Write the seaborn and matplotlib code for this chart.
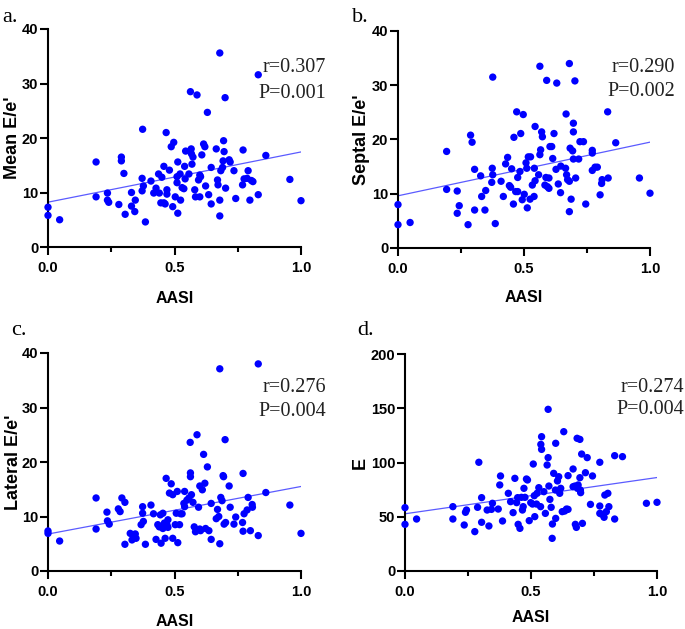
import matplotlib
matplotlib.use('Agg')
import matplotlib.pyplot as plt
import seaborn as sns
import pandas as pd
from matplotlib import font_manager
from matplotlib.ticker import MultipleLocator

# ---------------- data ----------------
mean_aasi = [0, 0, 0.046, 0.19, 0.19, 0.235, 0.235, 0.24, 0.28, 0.29,
             0.29, 0.30, 0.305, 0.33, 0.33, 0.345, 0.343, 0.374, 0.372, 0.372,
             0.377, 0.385, 0.407, 0.418, 0.427, 0.437, 0.44, 0.45, 0.446, 0.458,
             0.458, 0.467, 0.47, 0.47, 0.463, 0.48, 0.487, 0.497, 0.493, 0.503,
             0.51, 0.51, 0.513, 0.513, 0.522, 0.524, 0.53, 0.537, 0.54, 0.544,
             0.542, 0.557, 0.563, 0.566, 0.567, 0.569, 0.573, 0.58, 0.583, 0.589,
             0.595, 0.6, 0.6, 0.603, 0.608, 0.615, 0.62, 0.623, 0.63, 0.635,
             0.645, 0.645, 0.665, 0.67, 0.672, 0.679, 0.679, 0.679, 0.683, 0.69,
             0.692, 0.694, 0.696, 0.70, 0.702, 0.716, 0.72, 0.735, 0.742, 0.769,
             0.771, 0.775, 0.787, 0.791, 0.798, 0.804, 0.81, 0.831, 0.831, 0.861,
             0.956, 1.0]
mean_ee = [7.3, 5.8, 5.0, 15.6, 9.2, 9.9, 8.6, 8.2, 7.8, 15.8,
           16.5, 13.5, 6.0, 10.0, 7.5, 8.6, 6.5, 21.6, 12.6, 10.3,
           11.2, 4.6, 12.1, 9.9, 10.8, 13.4, 9.9, 12.8, 8.1, 8.1,
           14.8, 21.0, 10.5, 9.7, 7.9, 14.1, 18.4, 19.2, 7.4, 9.2,
           12.9, 11.8, 15.6, 6.2, 13.4, 8.6, 10.9, 10.7, 14.8, 17.6,
           12.5, 13.4, 28.5, 18.0, 17.1, 15.2, 16.5, 10.5, 9.2, 27.9,
           12.3, 13.2, 9.2, 12.9, 16.9, 18.9, 18.4, 11.2, 24.7, 9.6,
           14.6, 7.9, 18.0, 12.3, 11.4, 35.6, 8.6, 5.7, 14.0, 14.6,
           15.8, 19.5, 17.5, 27.4, 10.8, 16.0, 15.6, 14.0, 8.9, 11.4,
           17.8, 12.5, 12.6, 14.0, 8.6, 12.2, 12.0, 31.6, 9.6, 16.8,
           12.4, 8.5]

septal_aasi = [0, 0, 0.048, 0.193, 0.193, 0.235, 0.235, 0.243, 0.278, 0.288,
               0.294, 0.304, 0.304, 0.328, 0.332, 0.345, 0.348, 0.376, 0.374, 0.376,
               0.372, 0.386, 0.409, 0.418, 0.427, 0.435, 0.442, 0.447, 0.451, 0.458,
               0.46, 0.467, 0.471, 0.475, 0.475, 0.484, 0.487, 0.493, 0.497, 0.501,
               0.508, 0.511, 0.513, 0.517, 0.524, 0.526, 0.533, 0.54, 0.541, 0.544,
               0.544, 0.558, 0.563, 0.563, 0.566, 0.57, 0.573, 0.583, 0.587, 0.59,
               0.593, 0.599, 0.599, 0.603, 0.61, 0.614, 0.619, 0.627, 0.63, 0.636,
               0.645, 0.646, 0.665, 0.667, 0.669, 0.673, 0.68, 0.68, 0.68, 0.683,
               0.687, 0.693, 0.696, 0.696, 0.696, 0.702, 0.705, 0.717, 0.722, 0.736,
               0.745, 0.771, 0.771, 0.771, 0.782, 0.791, 0.802, 0.808, 0.81, 0.832,
               0.834, 0.864, 0.958, 1.0]
septal_ee = [8.0, 4.3, 4.7, 17.8, 10.8, 10.5, 6.4, 7.8, 4.3, 20.8,
             19.5, 14.5, 7.0, 13.3, 9.5, 7.0, 10.6, 31.5, 14.7, 13.5,
             12.1, 4.5, 12.3, 9.5, 15.5, 16.7, 11.5, 11.2, 14.6, 8.1,
             20.4, 10.4, 25.1, 10.4, 13.0, 14.1, 21.1, 8.9, 24.6, 9.9,
             15.7, 14.7, 7.4, 16.8, 9.0, 16.8, 11.6, 9.5, 14.7, 22.4,
             12.4, 13.5, 33.5, 17.2, 18.1, 21.4, 20.5, 11.6, 13.0, 30.9,
             11.3, 12.9, 11.0, 18.7, 18.7, 16.5, 21.1, 14.5, 30.4, 11.8,
             10.2, 15.1, 14.7, 24.7, 13.5, 12.6, 34.0, 12.3, 6.7, 18.4,
             9.0, 17.9, 23.0, 21.4, 16.4, 30.8, 12.9, 16.4, 19.6, 19.6,
             8.1, 17.5, 18.0, 14.3, 14.9, 14.9, 9.8, 11.9, 12.6, 25.1,
             12.9, 19.4, 12.9, 10.1]

lateral_aasi = [0, 0, 0.046, 0.19, 0.19, 0.233, 0.235, 0.242, 0.278, 0.285,
                0.292, 0.304, 0.304, 0.325, 0.332, 0.339, 0.345, 0.348, 0.368, 0.374,
                0.374, 0.377, 0.385, 0.407, 0.417, 0.427, 0.434, 0.44, 0.444, 0.447,
                0.454, 0.454, 0.46, 0.463, 0.467, 0.47, 0.474, 0.474, 0.48, 0.487,
                0.493, 0.493, 0.503, 0.507, 0.511, 0.513, 0.52, 0.524, 0.53, 0.537,
                0.54, 0.54, 0.549, 0.557, 0.562, 0.563, 0.563, 0.567, 0.573, 0.578,
                0.583, 0.589, 0.595, 0.6, 0.6, 0.603, 0.61, 0.615, 0.62, 0.623,
                0.63, 0.636, 0.645, 0.645, 0.665, 0.67, 0.675, 0.679, 0.679, 0.683,
                0.688, 0.692, 0.694, 0.696, 0.70, 0.702, 0.716, 0.72, 0.735, 0.742,
                0.769, 0.771, 0.775, 0.771, 0.787, 0.791, 0.80, 0.807, 0.808, 0.831,
                0.831, 0.861, 0.956, 1.0]
lateral_ee = [7.35, 6.9, 5.5, 13.4, 7.7, 10.8, 9.2, 8.6, 11.4, 10.9,
              13.4, 12.6, 4.9, 6.9, 5.7, 6.3, 6.8, 6.0, 8.5, 11.8,
              10.6, 9.1, 4.9, 12.1, 10.5, 5.8, 8.5, 8.1, 10.3, 5.1,
              10.6, 7.8, 8.8, 6.0, 17.0, 8.5, 9.4, 8.0, 14.3, 16.0,
              14.0, 6.0, 8.5, 10.6, 14.6, 5.2, 8.5, 10.5, 10.5, 12.4,
              14.6, 11.8, 13.0, 13.4, 23.6, 18.0, 17.3, 14.0, 12.6, 8.1,
              7.2, 25.0, 11.7, 15.6, 7.7, 7.4, 14.9, 21.4, 16.1, 7.8,
              19.1, 7.4, 12.4, 5.8, 9.6, 11.3, 10.0, 37.1, 5.0, 13.5,
              12.9, 17.5, 17.3, 8.6, 24.1, 8.9, 15.6, 11.7, 8.6, 9.9,
              8.9, 17.9, 10.5, 7.3, 11.2, 13.5, 7.4, 12.2, 11.7, 38.0,
              6.5, 14.4, 12.1, 6.9]

e_aasi = [0, 0, 0.046, 0.19, 0.19, 0.235, 0.24, 0.244, 0.277, 0.288,
          0.293, 0.304, 0.304, 0.326, 0.333, 0.343, 0.347, 0.37, 0.376, 0.379,
          0.387, 0.41, 0.419, 0.429, 0.436, 0.443, 0.447, 0.449, 0.456, 0.462,
          0.466, 0.469, 0.472, 0.476, 0.482, 0.486, 0.493, 0.499, 0.506, 0.509,
          0.513, 0.515, 0.522, 0.524, 0.531, 0.538, 0.542, 0.539, 0.542, 0.551,
          0.557, 0.564, 0.568, 0.568, 0.571, 0.575, 0.58, 0.585, 0.584, 0.59,
          0.597, 0.598, 0.598, 0.605, 0.61, 0.614, 0.618, 0.624, 0.63, 0.634,
          0.641, 0.647, 0.647, 0.667, 0.667, 0.674, 0.676, 0.68, 0.683, 0.684,
          0.687, 0.694, 0.694, 0.696, 0.697, 0.701, 0.704, 0.716, 0.723, 0.736,
          0.744, 0.773, 0.773, 0.773, 0.779, 0.793, 0.79, 0.799, 0.805, 0.809,
          0.832, 0.832, 0.863, 0.958, 1.0]
e_vals = [58.4, 43.0, 47.9, 59.3, 47.9, 42.4, 54.1, 56.2, 36.3, 58.7,
          100.2, 67.6, 44.9, 56.2, 41.5, 56.8, 62.4, 57.1, 79.3, 87.6,
          46.1, 71.6, 63.9, 53.8, 85.4, 63.0, 67.6, 43.0, 39.3, 67.9,
          56.2, 59.3, 76.2, 67.9, 84.8, 83.9, 46.4, 63.0, 61.7, 98.6,
          69.4, 50.1, 61.7, 71.6, 76.8, 59.3, 123.8, 116.7, 112.1, 73.1,
          53.1, 97.7, 104.5, 149.0, 78.3, 66.0, 58.7, 43.3, 30.1, 90.0,
          74.6, 48.5, 117.7, 83.0, 86.9, 71.6, 76.2, 54.7, 128.4, 55.3,
          57.1, 56.8, 87.9, 94.0, 77.7, 78.3, 43.0, 40.2, 122.3, 76.2,
          79.3, 121.3, 86.0, 74.6, 72.2, 107.8, 43.9, 90.6, 104.5, 61.4,
          87.6, 100.2, 59.9, 53.1, 52.5, 70.0, 49.5, 54.7, 71.6, 59.3,
          106.3, 47.9, 105.4, 62.4, 63.3]

panel_tags = ['a.', 'b.', 'c.', 'd.']
y_labels = ["Mean E/e'", "Septal E/e'", "Lateral E/e'", "E"]
r_values = ['r=0.307', 'r=0.290', 'r=0.276', 'r=0.274']
p_values = ['P=0.001', 'P=0.002', 'P=0.004', 'P=0.004']
x_ticks = [0.0, 0.5, 1.0]
x_tick_labels = ['0.0', '0.5', '1.0']
y_max = [40, 40, 40, 200]
y_step = [10, 10, 10, 50]

# ---------------- style ----------------
sns.set_theme(style='ticks')
names = {f.name for f in font_manager.fontManager.ttflist}
sans = 'Liberation Sans Narrow' if 'Liberation Sans Narrow' in names else 'Liberation Sans'
plt.rcParams['font.family'] = [sans, 'DejaVu Sans']
serif = ['Liberation Serif', 'DejaVu Serif']

W, H = 685, 629
fig = plt.figure(figsize=(W / 100, H / 100), dpi=100)

# axes boxes in pixels: left, right, top, bottom
boxes = [(48, 301, 29, 247), (398, 650, 31, 248), (48, 301, 353, 571), (405, 657, 354, 571)]
tag_pos = [(2, 22), (352, 22), (11, 335), (357, 335)]
stat_pos = [(326, 67, 93), (675, 67, 91), (326, 387, 412), (684, 387, 410)]
ylab_x = [12, 362, 13, 360]
xlab_y = [298, 298, 621, 618]

data = [(mean_aasi, mean_ee), (septal_aasi, septal_ee), (lateral_aasi, lateral_ee), (e_aasi, e_vals)]

for i, (xs, ys) in enumerate(data):
    l, r, t, b = boxes[i]
    ax = fig.add_axes([l / W, 1 - b / H, (r - l) / W, (b - t) / H])
    df = pd.DataFrame({'AASI': xs, 'val': ys})
    sns.regplot(data=df, x='AASI', y='val', scatter=False, ci=None, ax=ax,
                line_kws=dict(color='#5b5bff', lw=0.9), truncate=True)
    sns.scatterplot(data=df, x='AASI', y='val', ax=ax, color='#0000ff', s=28,
                    edgecolor='none', linewidth=0, clip_on=False, zorder=3)
    ax.set_xlim(0, 1.0)
    ax.set_ylim(0, y_max[i])
    ax.set_xticks(x_ticks)
    ax.set_xticklabels(x_tick_labels)
    ax.xaxis.set_minor_locator(MultipleLocator(0.25))
    ax.yaxis.set_major_locator(MultipleLocator(y_step[i]))
    for s in ['top', 'right']:
        ax.spines[s].set_visible(False)
    for s in ['left', 'bottom']:
        ax.spines[s].set_linewidth(1.5)
        ax.spines[s].set_color('black')
    ax.tick_params(axis='both', which='major', length=5.5, width=1.5, color='black',
                   labelsize=10.5, labelcolor='black')
    ax.tick_params(axis='x', which='minor', length=3.5, width=1.5, color='black')
    ax.tick_params(axis='x', which='major', pad=4.5)
    ax.tick_params(axis='y', which='major', pad=1.5)
    for lab in ax.get_xticklabels() + ax.get_yticklabels():
        lab.set_fontweight('bold')
    ax.set_xlabel('AASI', fontsize=11.5, fontweight='bold', color='black')
    ax.set_ylabel(y_labels[i], fontsize=13, fontweight='bold', color='black')
    ax.xaxis.set_label_coords(0.5, -(xlab_y[i] - b) / (b - t))
    ax.xaxis.label.set_va('center')
    ax.yaxis.set_label_coords((ylab_x[i] - l) / (r - l), 0.5)
    ax.yaxis.label.set_va('center')
    ax.set_facecolor('white')

    tx, ty = tag_pos[i]
    fig.text(tx / W, 1 - ty / H, panel_tags[i], family=serif, fontsize=16,
             ha='left', va='baseline', color='black')
    sx, sy1, sy2 = stat_pos[i]
    fig.text(sx / W, 1 - sy1 / H, r_values[i], family=serif, fontsize=14.5,
             ha='right', va='center', color='#222222')
    fig.text(sx / W, 1 - sy2 / H, p_values[i], family=serif, fontsize=14.5,
             ha='right', va='center', color='#222222')

fig.savefig('out.png', dpi=100, facecolor='white')
